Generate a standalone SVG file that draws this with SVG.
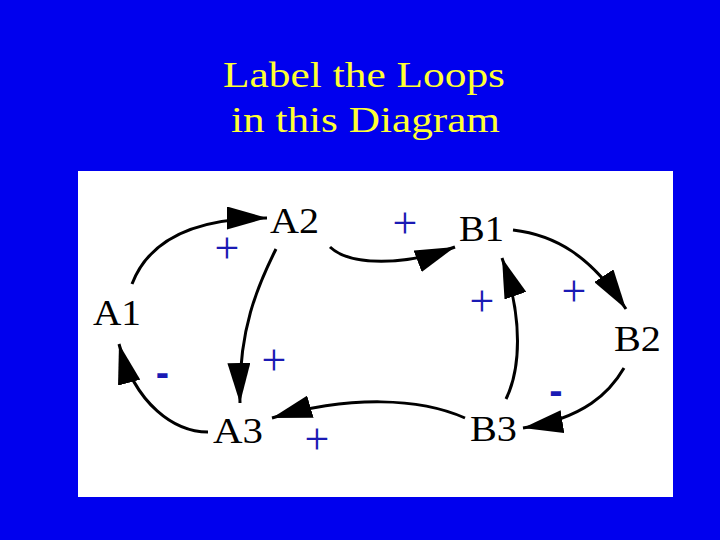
<svg xmlns="http://www.w3.org/2000/svg" width="720" height="540" viewBox="0 0 720 540">
<defs>
<style>
.title{font-family:"Liberation Serif","Times New Roman",serif;font-size:36px;fill:#ffff33;}
.node{font-family:"Liberation Serif","Times New Roman",serif;font-size:35px;fill:#000;}
.plus{font-family:"Liberation Serif","Times New Roman",serif;font-size:44px;fill:#1a1ab4;text-anchor:middle;}
.minus{font-family:"Liberation Sans",Arial,sans-serif;font-weight:bold;font-size:40px;fill:#1a1ab4;text-anchor:middle;}
.link{fill:none;stroke:#000;stroke-width:3;marker-end:url(#arrow);}
</style>
<marker id="arrow" viewBox="0 0 40 23" markerUnits="userSpaceOnUse" markerWidth="40" markerHeight="23" refX="40" refY="11.5" orient="auto">
<path d="M0,0 L40,11.5 L0,23 z" fill="#000"/>
</marker>
</defs>
<rect x="0" y="0" width="720" height="540" fill="#0000ee"/>
<g id="title">
<text class="title" x="223" y="87" textLength="282" lengthAdjust="spacingAndGlyphs">Label the Loops</text>
<text class="title" x="231" y="132" textLength="269" lengthAdjust="spacingAndGlyphs">in this Diagram</text>
</g>
<rect id="panel" x="78" y="171" width="595" height="326" fill="#fff"/>
<g id="connectors">
<path class="link" d="M132,284 C145,250 180,218 267,218"/>
<path class="link" d="M330,247 C350,266 405,266 455,247"/>
<path class="link" d="M276,249 C258,285 238,330 240,403"/>
<path class="link" d="M513,230 C555,235 590,255 626,309"/>
<path class="link" d="M506,399 C520,370 524,320 502,258"/>
<path class="link" d="M624,368 C610,392 585,418 523,428"/>
<path class="link" d="M465,418 C420,398 350,395 272,418"/>
<path class="link" d="M208,432 C175,432 135,405 119,344"/>
</g>
<g id="polarities">
<text class="plus" x="227" y="263">+</text>
<text class="plus" x="405" y="238">+</text>
<text class="plus" x="574" y="306">+</text>
<text class="plus" x="482" y="316">+</text>
<text class="plus" x="274" y="375">+</text>
<text class="plus" x="317" y="454">+</text>
<text class="minus" x="162.5" y="386">-</text>
<text class="minus" x="556" y="404">-</text>
</g>
<g id="node-A1"><text class="node" x="93" y="325" textLength="48" lengthAdjust="spacingAndGlyphs">A1</text></g>
<g id="node-A2"><text class="node" x="270" y="233" textLength="49" lengthAdjust="spacingAndGlyphs">A2</text></g>
<g id="node-A3"><text class="node" x="213" y="443" textLength="50" lengthAdjust="spacingAndGlyphs">A3</text></g>
<g id="node-B1"><text class="node" x="459" y="241" textLength="45" lengthAdjust="spacingAndGlyphs">B1</text></g>
<g id="node-B2"><text class="node" x="614" y="351" textLength="47" lengthAdjust="spacingAndGlyphs">B2</text></g>
<g id="node-B3"><text class="node" x="470" y="441" textLength="47" lengthAdjust="spacingAndGlyphs">B3</text></g>
</svg>
